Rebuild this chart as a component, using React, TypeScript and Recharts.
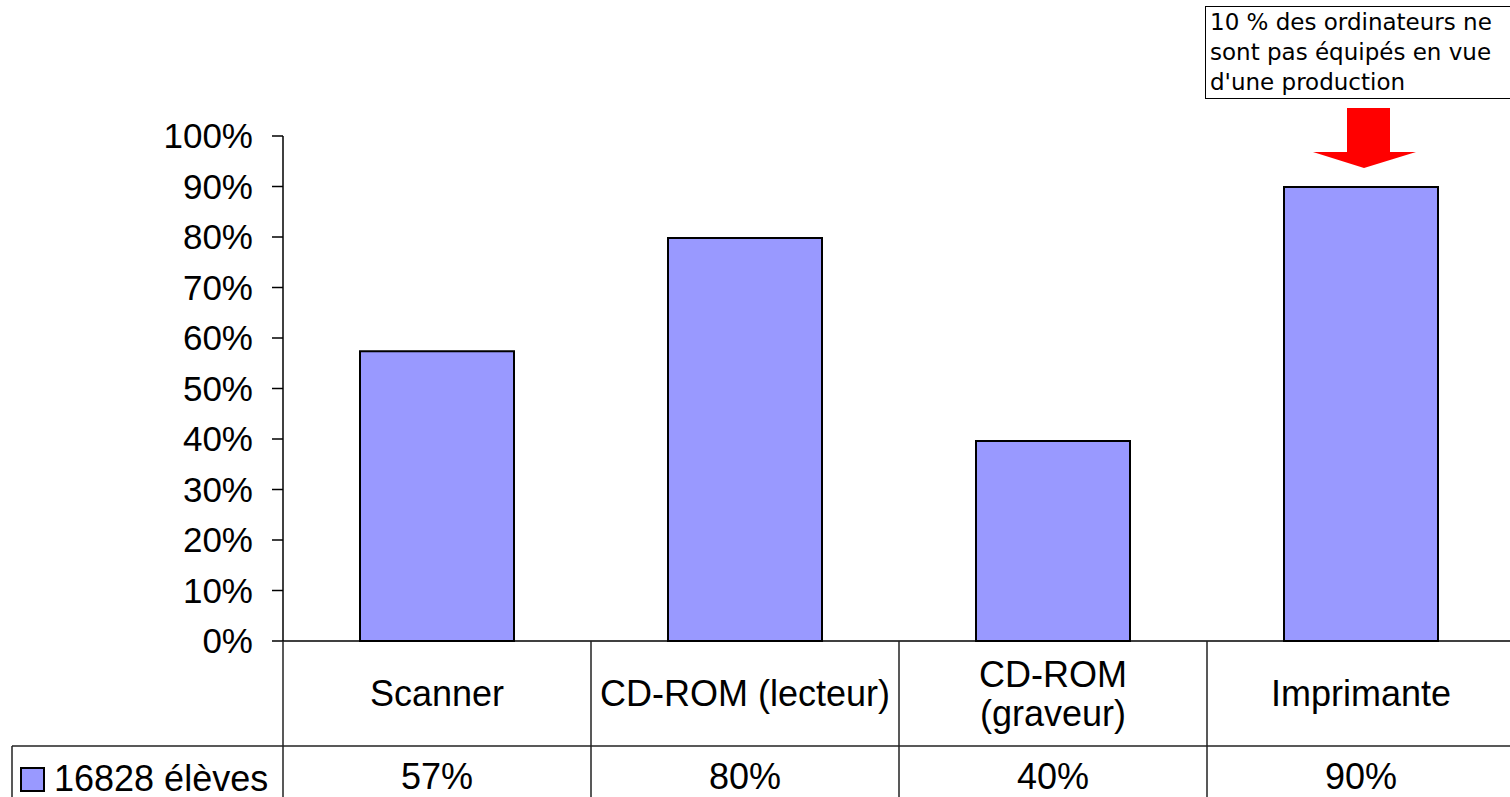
import * as React from "react";
import { BarChart, Bar, XAxis, YAxis } from "recharts";

// données du graphique
const categories = ["Scanner", "CD-ROM (lecteur)", "CD-ROM (graveur)", "Imprimante"];
const categoryLines = [["Scanner"], ["CD-ROM (lecteur)"], ["CD-ROM", "(graveur)"], ["Imprimante"]];
const seriesName = "16828 élèves";
const seriesValues = [0.574, 0.798, 0.396, 0.899];
const valueLabels = ["57%", "80%", "40%", "90%"];
const yTicks = [0, 0.1, 0.2, 0.3, 0.4, 0.5, 0.6, 0.7, 0.8, 0.9, 1];
const noteLines = ["10 % des ordinateurs ne", "sont pas équipés en vue", "d'une production"];

const data = categories.map((name, i) => ({ name, value: seriesValues[i] }));

const FONT = "Arial, 'Liberation Sans', sans-serif";
const CHART_W = 1520;
const CHART_H = 797;
const Y_AXIS_W = 283;
const X_AXIS_H = 156;
const MARGIN = { top: 136, right: 5, bottom: 0, left: 0 };
const BAND = (CHART_W - MARGIN.left - MARGIN.right - Y_AXIS_W) / categories.length;
const ROW1_H = 105;
const LINE = "#222";

// cellule du tableau sous chaque catégorie
function TableTick(props: any) {
  const { x, y, payload } = props;
  const i = categories.indexOf(payload.value);
  const left = x - BAND / 2;
  const lines = categoryLines[i] ?? [payload.value];
  const mid = y + ROW1_H / 2;
  return (
    <g>
      <line x1={left} y1={y} x2={left} y2={y + X_AXIS_H} stroke={LINE} strokeWidth={1.5} />
      {i === categories.length - 1 && (
        <line x1={left + BAND} y1={y} x2={left + BAND} y2={y + X_AXIS_H} stroke={LINE} strokeWidth={1.5} />
      )}
      <line x1={left} y1={y + ROW1_H} x2={left + BAND} y2={y + ROW1_H} stroke={LINE} strokeWidth={1.5} />
      {lines.map((t, k) => (
        <text
          key={k}
          x={x}
          y={mid + (k - (lines.length - 1) / 2) * 39}
          textAnchor="middle"
          dominantBaseline="central"
          fontSize={36}
          fontFamily={FONT}
          fill="#000"
        >
          {t}
        </text>
      ))}
      <text
        x={x}
        y={y + 135}
        textAnchor="middle"
        dominantBaseline="central"
        fontSize={36}
        fontFamily={FONT}
        fill="#000"
      >
        {valueLabels[i]}
      </text>
    </g>
  );
}

export default function App() {
  return (
    <div
      style={{
        position: "absolute",
        left: 0,
        top: 0,
        width: 1510,
        height: 797,
        overflow: "hidden",
        background: "#fff",
      }}
    >
      <BarChart width={CHART_W} height={CHART_H} data={data} margin={MARGIN} barCategoryGap="25%">
        <YAxis
          width={Y_AXIS_W}
          domain={[0, 1]}
          ticks={yTicks}
          interval={0}
          tickFormatter={(v: number) => `${Math.round(v * 100)}%`}
          stroke="#000"
          strokeWidth={1.5}
          tickSize={11}
          tickMargin={19}
          tick={{ fill: "#000", fontSize: 35, fontFamily: FONT }}
        />
        <XAxis
          dataKey="name"
          height={X_AXIS_H}
          interval={0}
          tickLine={false}
          tickSize={0}
          tickMargin={0}
          stroke="#000"
          strokeWidth={1.5}
          tick={<TableTick />}
        />
        <Bar dataKey="value" fill="#9999FF" stroke="#000" strokeWidth={2} isAnimationActive={false} />
      </BarChart>

      {/* cellule de légende du tableau */}
      <svg style={{ position: "absolute", left: 0, top: 0 }} width={1510} height={797}>
        <line x1={12} y1={746} x2={283} y2={746} stroke={LINE} strokeWidth={1.5} />
        <line x1={12} y1={746} x2={12} y2={797} stroke={LINE} strokeWidth={1.5} />
        <rect x={21} y={768} width={23} height={23} fill="#9999FF" stroke="#000" strokeWidth={2} />
        <text x={54} y={778} dominantBaseline="central" fontSize={36} fontFamily={FONT} fill="#000">
          {seriesName}
        </text>
        {/* flèche rouge au-dessus de l'imprimante */}
        <polygon
          points="1347,108 1390,108 1390,152 1416,152 1364,168 1313,152 1347,152"
          fill="#ff0000"
        />
      </svg>

      {/* encadré de commentaire */}
      <div
        style={{
          position: "absolute",
          left: 1205,
          top: 6,
          width: 320,
          height: 93,
          border: "1.5px solid #000",
          boxSizing: "border-box",
          padding: "0 0 0 4px",
          fontFamily: "'DejaVu Sans', Verdana, sans-serif",
          fontSize: 23,
          lineHeight: "30px",
          color: "#000",
          whiteSpace: "nowrap",
          background: "#fff",
        }}
      >
        {noteLines.map((l, k) => (
          <div key={k}>{l}</div>
        ))}
      </div>
    </div>
  );
}
